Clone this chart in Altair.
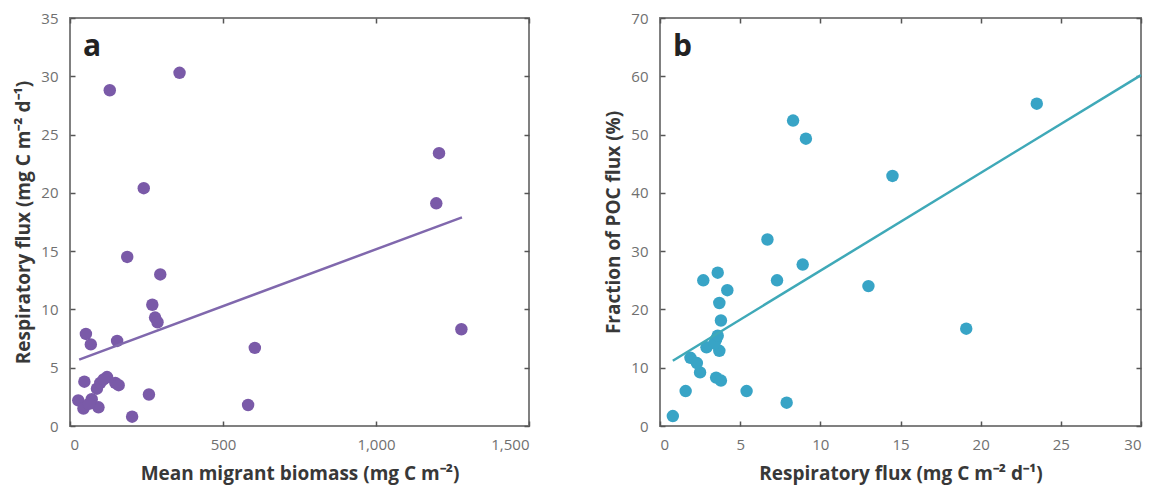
import altair as alt
import pandas as pd

# Panel a: mean migrant biomass vs respiratory flux
biomass = [358, 130, 241, 187, 295, 269, 278, 286, 52, 68, 154, 1279, 604, 1206, 1197,
           582, 203, 258, 47, 27, 44, 93, 71, 88, 99, 121, 148, 159, 62, 110]
resp_a = [30.3, 28.8, 20.4, 14.5, 13.0, 10.4, 9.3, 8.9, 7.9, 7.0, 7.3, 8.3, 6.7, 23.4, 19.1,
          1.8, 0.8, 2.7, 3.8, 2.2, 1.5, 1.6, 2.3, 3.2, 3.7, 4.2, 3.7, 3.5, 1.9, 4.0]
fit_a_x = [30, 1281]
fit_a_y = [5.7, 17.9]

# Panel b: respiratory flux vs fraction of POC flux
resp_b = [0.8, 1.6, 2.5, 1.9, 2.3, 2.9, 3.5, 3.7, 3.5, 3.8, 3.8, 3.7, 4.2, 3.6, 2.7, 5.4,
          7.9, 6.7, 7.3, 8.9, 8.3, 9.1, 14.5, 13.0, 19.1, 23.5, 3.4, 3.6]
poc_frac = [1.7, 6.0, 9.2, 11.7, 10.8, 13.5, 14.9, 12.9, 8.3, 7.8, 18.1, 21.1, 23.3, 26.3, 25.0, 6.0,
            4.0, 32.0, 25.0, 27.7, 52.4, 49.3, 42.9, 24.0, 16.7, 55.3, 14.2, 15.5]
fit_b_x = [0.8, 30]
fit_b_y = [11.2, 60.2]

xticks_a = [0, 500, 1000, 1500]
yticks_a = [0, 5, 10, 15, 20, 25, 30, 35]
xticks_b = [0, 5, 10, 15, 20, 25, 30]
yticks_b = [0, 10, 20, 30, 40, 50, 60, 70]

FONT = "Open Sans"
LABEL_COLOR = "#707070"
TITLE_COLOR = "#383838"
TICK_COLOR = "#555555"


def panel(xs, ys, fx, fy, xdom, ydom, xticks, yticks, xtitle, ytitle, color, lcolor,
          letter, w, h, xfmt):
    df = pd.DataFrame({"x": xs, "y": ys})
    fit = pd.DataFrame({"x": fx, "y": fy})
    xsc = alt.Scale(domain=xdom, nice=False, zero=False)
    ysc = alt.Scale(domain=ydom, nice=False, zero=False)

    lab_x = alt.Axis(orient="bottom", values=xticks, format=xfmt, ticks=False, domain=False,
                     grid=False, title=xtitle, labelPadding=11, titlePadding=12)
    lab_y = alt.Axis(orient="left", values=yticks, format="d", ticks=False, domain=False, grid=False,
                     title=ytitle, labelPadding=12, titlePadding=7)
    tick_x = alt.Axis(orient="bottom", values=xticks, labels=False, domain=False, grid=False,
                      title=None, offset=-5, tickSize=5, tickColor=TICK_COLOR, tickWidth=1.5)
    tick_y = alt.Axis(orient="left", values=yticks, labels=False, domain=False, grid=False,
                      title=None, offset=-5, tickSize=5, tickColor=TICK_COLOR, tickWidth=1.5)
    tick_x2 = alt.Axis(orient="top", values=xticks, labels=False, domain=False, grid=False,
                       title=None, offset=-5, tickSize=5, tickColor=TICK_COLOR, tickWidth=1.5)
    tick_y2 = alt.Axis(orient="right", values=yticks, labels=False, domain=False, grid=False,
                       title=None, offset=-5, tickSize=5, tickColor=TICK_COLOR, tickWidth=1.5)

    line = alt.Chart(fit).mark_line(color=lcolor, strokeWidth=2.5).encode(
        x=alt.X("x:Q", scale=xsc, axis=tick_x),
        y=alt.Y("y:Q", scale=ysc, axis=tick_y),
    )
    ghost = alt.Chart(fit).mark_point(opacity=0).encode(
        x=alt.X("x:Q", scale=xsc, axis=tick_x2),
        y=alt.Y("y:Q", scale=ysc, axis=tick_y2),
    )
    points = alt.Chart(df).mark_circle(size=155, opacity=1, color=color).encode(
        x=alt.X("x:Q", scale=xsc, axis=lab_x),
        y=alt.Y("y:Q", scale=ysc, axis=lab_y),
    )
    text = alt.Chart(pd.DataFrame({"t": [letter]})).mark_text(
        font=FONT, fontSize=30, fontWeight="bold", color="#222222", align="left",
        baseline="alphabetic"
    ).encode(text="t:N", x=alt.value(13), y=alt.value(38))

    return alt.layer(points, line, ghost, text).resolve_axis(
        x="independent", y="independent"
    ).properties(width=w, height=h)


pa = panel(biomass, resp_a, fit_a_x, fit_a_y, [0, 1500], [0, 35], xticks_a, yticks_a,
           "Mean migrant biomass (mg C m\u207b\u00b2)",
           "Respiratory flux (mg C m\u207b\u00b2 d\u207b\u00b9)",
           "#7a5aa8", "#8068ad", "a", 459, 408, ",.0f")
pb = panel(resp_b, poc_frac, fit_b_x, fit_b_y, [0, 30], [0, 70], xticks_b, yticks_b,
           "Respiratory flux (mg C m\u207b\u00b2 d\u207b\u00b9)",
           "Fraction of POC flux (%)",
           "#38a4c6", "#3fa9b8", "b", 481, 408, "d")

chart = alt.hconcat(pa, pb, spacing=72).properties(
    padding={"left": 5, "top": 2, "right": 5, "bottom": 5},
    background="white",
).configure_view(
    stroke="#808080", strokeWidth=2
).configure_axis(
    labelFont=FONT, labelFontSize=15, labelColor=LABEL_COLOR,
    titleFont=FONT, titleFontSize=19, titleFontWeight="bold", titleColor=TITLE_COLOR
)

chart.save("out.html", embed_options={"renderer": "svg", "actions": False})
